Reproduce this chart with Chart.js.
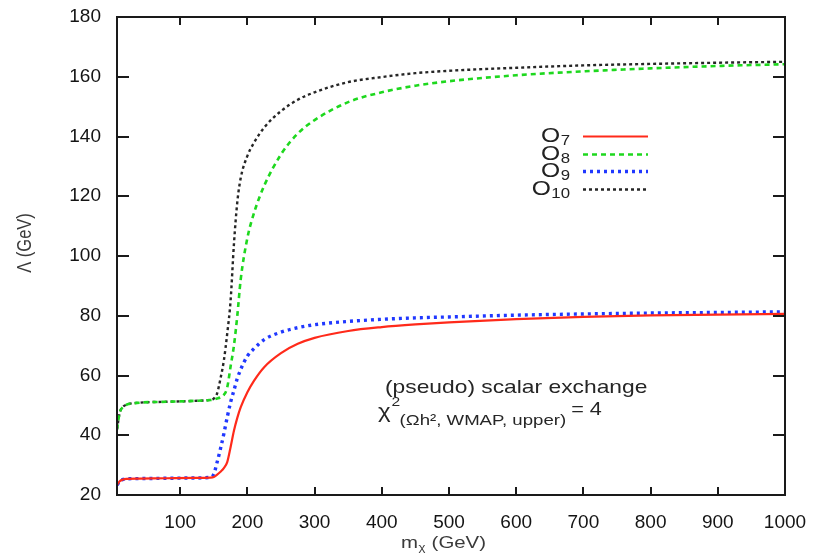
<!DOCTYPE html>
<html>
<head>
<meta charset="utf-8">
<script src="https://cdn.jsdelivr.net/npm/chart.js@4/dist/chart.umd.min.js"></script>
<style>
  html, body { margin: 0; padding: 0; background: #ffffff; }
  canvas { display: block; }
</style>
</head>
<body>
<canvas id="c" width="816" height="553"></canvas>
<script>
// Dark-matter mass grid (GeV) and the cutoff scale Lambda (GeV) for each operator
const massGeV = [6, 10, 15, 20, 40, 80, 120, 145, 150, 155, 160, 165, 170, 175, 180, 185, 190, 200, 210, 225, 250, 275, 300, 350, 400, 450, 500, 600, 700, 800, 900, 1000];

const lambdaO7 = [23.3, 24.6, 25.2, 25.4, 25.5, 25.6, 25.7, 25.8, 26.0, 26.8, 27.8, 29.0, 31.0, 36.0, 41.5, 45.8, 49.3, 54.4, 58.3, 62.8, 67.5, 70.6, 72.6, 74.9, 76.2, 77.1, 77.8, 78.9, 79.6, 80.1, 80.4, 80.6];
const lambdaO8 = [42.0, 47.5, 49.5, 50.2, 50.9, 51.2, 51.5, 51.8, 52.0, 52.3, 52.7, 53.5, 56.0, 63.0, 70.0, 80.0, 92.0, 106.0, 114.5, 123.5, 134.0, 141.0, 145.5, 151.5, 154.8, 157.0, 158.5, 160.5, 161.8, 162.8, 163.6, 164.2];
const lambdaO9 = [23.3, 24.6, 25.2, 25.4, 25.5, 25.6, 25.7, 25.9, 27.0, 31.0, 35.5, 40.5, 46.0, 51.0, 55.0, 59.0, 62.0, 66.5, 69.0, 72.0, 74.5, 76.0, 77.0, 78.1, 78.8, 79.3, 79.6, 80.2, 80.6, 80.9, 81.1, 81.3];
const lambdaO10 = [42.0, 47.5, 49.5, 50.2, 50.9, 51.2, 51.5, 51.9, 52.3, 54.0, 59.0, 65.0, 74.0, 85.0, 104.0, 118.0, 126.0, 133.5, 138.0, 143.0, 148.5, 152.3, 154.8, 158.2, 159.9, 161.2, 162.0, 163.0, 163.8, 164.3, 164.7, 165.0];

const xTickValues = [100, 200, 300, 400, 500, 600, 700, 800, 900, 1000];
const yTickValues = [20, 40, 60, 80, 100, 120, 140, 160, 180];

const seriesNames = ['7', '8', '9', '10'];

const toPoints = (ys) => massGeV.map((m, i) => ({ x: m, y: ys[i] }));

const FONT = '"Liberation Sans", Arial, Helvetica, sans-serif';
const SX = 1.2; // horizontal text stretch

function stretchText(ctx, text, x, y, size, align, color, sx) {
  const k = sx || SX;
  ctx.save();
  ctx.font = size + 'px ' + FONT;
  ctx.fillStyle = color || '#222';
  ctx.textBaseline = 'alphabetic';
  const w = ctx.measureText(text).width * k;
  let x0 = x;
  if (align === 'right') x0 = x - w;
  else if (align === 'center') x0 = x - w / 2;
  ctx.translate(x0, y);
  ctx.scale(k, 1);
  ctx.textAlign = 'left';
  ctx.fillText(text, 0, 0);
  ctx.restore();
  return w;
}

function textWidth(ctx, text, size, sx) {
  ctx.save();
  ctx.font = size + 'px ' + FONT;
  const w = ctx.measureText(text).width * (sx || SX);
  ctx.restore();
  return w;
}

const decorations = {
  id: 'decorations',
  afterDraw(chart) {
    const ctx = chart.ctx;
    const a = chart.chartArea;
    const xs = chart.scales.x, ys = chart.scales.y;

    // frame
    ctx.save();
    ctx.strokeStyle = '#1a1a1a';
    ctx.lineWidth = 2;
    ctx.strokeRect(a.left, a.top, a.right - a.left, a.bottom - a.top);

    // inward ticks on all four sides
    ctx.beginPath();
    xs.ticks.forEach(t => {
      const px = Math.round(xs.getPixelForValue(t.value));
      if (px <= a.left + 1 || px >= a.right - 1) return;
      ctx.moveTo(px, a.bottom); ctx.lineTo(px, a.bottom - 8);
      ctx.moveTo(px, a.top); ctx.lineTo(px, a.top + 8);
    });
    ys.ticks.forEach(t => {
      const py = Math.round(ys.getPixelForValue(t.value));
      if (py <= a.top + 1 || py >= a.bottom - 1) return;
      ctx.moveTo(a.left, py); ctx.lineTo(a.left + 12, py);
      ctx.moveTo(a.right, py); ctx.lineTo(a.right - 12, py);
    });
    ctx.stroke();
    ctx.restore();

    // legend
    const subRight = 570;
    const baselines = [142, 160, 177, 195];
    chart.data.datasets.forEach((ds, i) => {
      const b = baselines[i];
      const sub = seriesNames[i];
      const sw = textWidth(ctx, sub, 14);
      stretchText(ctx, sub, subRight, b + 3, 14, 'right', '#222');
      stretchText(ctx, 'O', subRight - sw - 0.5, b, 20.5, 'right', '#222');
      ctx.save();
      ctx.strokeStyle = ds.borderColor;
      ctx.lineWidth = ds.borderWidth;
      ctx.setLineDash(ds.borderDash || []);
      ctx.beginPath();
      const ly = b - 5.5;
      ctx.moveTo(583, ly);
      ctx.lineTo(648, ly);
      ctx.stroke();
      ctx.restore();
    });

    // annotation
    const ink = '#262626';
    stretchText(ctx, '(pseudo) scalar exchange', 385, 393, 19, 'left', ink);
    let x = 378;
    x += stretchText(ctx, '\u03C7', x, 418, 20, 'left', ink);
    stretchText(ctx, '2', x + 1, 406, 13, 'left', ink);
    const subW = stretchText(ctx, '(\u03A9h\u00B2, WMAP, upper)', x + 9, 425, 15.5, 'left', ink);
    stretchText(ctx, '= 4', x + 9 + subW + 5, 415, 18, 'left', ink);

    // axis titles
    const titleColor = '#3a3a3a';
    // x title: m_chi (GeV)
    let tx = 401;
    tx += stretchText(ctx, 'm', tx, 548, 17, 'left', titleColor);
    tx += stretchText(ctx, '\u03C7', tx + 0.5, 551, 11, 'left', titleColor);
    stretchText(ctx, ' (GeV)', tx + 1, 548, 17, 'left', titleColor);

    // y title: Lambda (GeV), rotated
    ctx.save();
    ctx.translate(31, 243);
    ctx.rotate(-Math.PI / 2);
    ctx.scale(1, 1.2);
    ctx.font = '16.5px ' + FONT;
    ctx.fillStyle = titleColor;
    ctx.textAlign = 'center';
    ctx.textBaseline = 'alphabetic';
    ctx.fillText('\u039B (GeV)', 0, 0);
    ctx.restore();
  }
};

const lineStyle = {
  pointRadius: 0,
  pointHoverRadius: 0,
  showLine: true,
  fill: false,
  cubicInterpolationMode: 'monotone',
  borderCapStyle: 'butt'
};

const tickFont = { family: FONT, size: 19 };

new Chart(document.getElementById('c'), {
  type: 'scatter',
  data: {
    datasets: [
      Object.assign({ label: 'O7', data: toPoints(lambdaO7), borderColor: '#ff2a1a', borderWidth: 2.2, borderDash: [] }, lineStyle),
      Object.assign({ label: 'O8', data: toPoints(lambdaO8), borderColor: '#1ed81e', borderWidth: 2.6, borderDash: [5, 4] }, lineStyle),
      Object.assign({ label: 'O9', data: toPoints(lambdaO9), borderColor: '#2038ff', borderWidth: 3.4, borderDash: [3, 4] }, lineStyle),
      Object.assign({ label: 'O10', data: toPoints(lambdaO10), borderColor: '#262626', borderWidth: 2.4, borderDash: [3, 3] }, lineStyle)
    ]
  },
  options: {
    responsive: false,
    animation: false,
    events: [],
    layout: { padding: { left: 0, right: 31, top: 17, bottom: 0 } },
    plugins: { legend: { display: false }, tooltip: { enabled: false }, title: { display: false } },
    scales: {
      x: {
        type: 'linear',
        min: 6,
        max: 1000,
        afterBuildTicks: s => { s.ticks = xTickValues.map(v => ({ value: v })); },
        afterFit: s => { s.height = 58; s.paddingLeft = 0; s.paddingRight = 0; },
        grid: { display: false, drawTicks: false },
        border: { display: false },
        ticks: { font: tickFont, color: '#141414', padding: 16, maxRotation: 0, autoSkip: false, callback: v => String(v) }
      },
      y: {
        type: 'linear',
        min: 20,
        max: 180,
        afterBuildTicks: s => { s.ticks = yTickValues.map(v => ({ value: v })); },
        afterFit: s => { s.width = 117; s.paddingTop = 0; s.paddingBottom = 0; },
        grid: { display: false, drawTicks: false },
        border: { display: false },
        ticks: { font: tickFont, color: '#141414', padding: 16, autoSkip: false, callback: v => String(v) }
      }
    }
  },
  plugins: [decorations]
});
</script>
</body>
</html>
